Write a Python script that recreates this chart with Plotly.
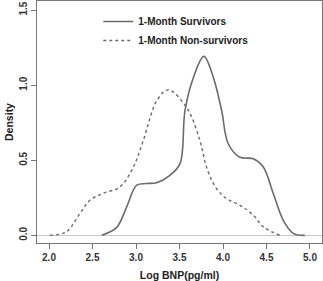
import plotly.graph_objects as go

surv_x = [2.606, 2.778, 2.893, 3.008, 3.12, 3.237, 3.39, 3.506, 3.563, 3.66, 3.78, 3.889, 3.985, 4.06, 4.195, 4.348, 4.463, 4.578, 4.693, 4.808, 4.94]
surv_y = [0.0, 0.053, 0.19, 0.334, 0.345, 0.35, 0.40, 0.478, 0.831, 1.052, 1.192, 1.052, 0.83, 0.61, 0.52, 0.51, 0.455, 0.279, 0.10, 0.013, 0.0]

non_x = [2.01, 2.20, 2.356, 2.47, 2.62, 2.816, 2.97, 3.084, 3.24, 3.37, 3.58, 3.735, 3.81, 3.925, 4.04, 4.195, 4.348, 4.463, 4.655]
non_y = [0.0, 0.024, 0.146, 0.234, 0.279, 0.323, 0.455, 0.632, 0.898, 0.969, 0.853, 0.632, 0.455, 0.312, 0.245, 0.20, 0.135, 0.057, 0.0]

x_ticks = [2.0, 2.5, 3.0, 3.5, 4.0, 4.5, 5.0]
y_ticks = [0.0, 0.5, 1.0, 1.5]

line_col = "#6b6b6b"
fam = "Liberation Sans, Arial, sans-serif"
font = dict(family=fam, size=10, color="#222", weight="bold")

fig = go.Figure()
fig.add_trace(go.Scatter(x=surv_x, y=surv_y, mode="lines", name="1-Month Survivors",
                         line=dict(color=line_col, width=1.6, shape="spline", smoothing=1.0)))
fig.add_trace(go.Scatter(x=non_x, y=non_y, mode="lines", name="1-Month Non-survivors",
                         line=dict(color=line_col, width=1.4, dash="dot", shape="spline", smoothing=1.0)))

fig.update_layout(
    width=323, height=281,
    margin=dict(l=37, r=1, t=1, b=38, autoexpand=False),
    paper_bgcolor="white", plot_bgcolor="white",
    font=font,
    showlegend=True,
    legend=dict(x=0.215, y=0.975, xanchor="left", yanchor="top",
                bgcolor="rgba(0,0,0,0)", font=dict(family=fam, size=10, color="#222", weight="bold"),
                tracegroupgap=0, itemwidth=30),
    xaxis=dict(range=[1.862, 5.138], tickvals=x_ticks, ticktext=[f"{v:.1f}" for v in x_ticks],
               showgrid=False, zeroline=False, showline=True, linecolor="#777", linewidth=1,
               mirror=True, ticks="outside", ticklen=5, tickcolor="#777", automargin=False,
               tickfont=dict(family=fam, size=10, color="#333", weight="bold"),
               title=dict(text="Log BNP(pg/ml)", standoff=9,
                          font=dict(family=fam, size=10.5, color="#222", weight="bold"))),
    yaxis=dict(range=[-0.051, 1.561], tickvals=y_ticks, ticktext=[f"{v:.1f}" for v in y_ticks],
               tickangle=-90, automargin=False,
               showgrid=False, zeroline=True, zerolinecolor="#c8c8c8", zerolinewidth=1,
               showline=True, linecolor="#777", linewidth=1,
               mirror=True, ticks="outside", ticklen=5, tickcolor="#777",
               tickfont=dict(family=fam, size=10, color="#333", weight="bold"),
               title=dict(text="Density", standoff=2,
                          font=dict(family=fam, size=10.5, color="#222", weight="bold"))),
)

fig.write_html("out.html", config={"displayModeBar": False},
               post_script="document.body.style.margin='0';document.body.style.padding='0';")
